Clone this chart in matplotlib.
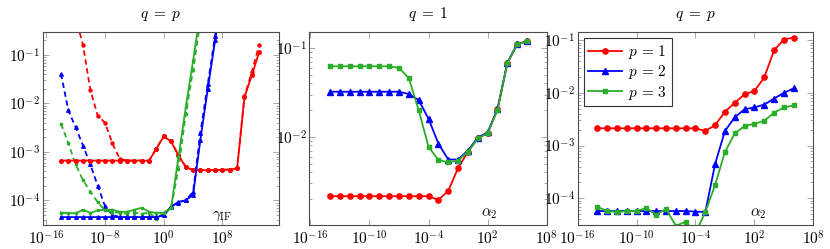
import numpy as np
import matplotlib
matplotlib.use("Agg")
import matplotlib.pyplot as plt
from matplotlib.ticker import LogLocator, NullFormatter, NullLocator

# ---- dati pannello 1 (q = p, gamma_IF) ----
exp1 = list(range(-14, 14))
red1_solid = [6.6e-4] * 13 + [1.17e-3, 2.1e-3, 1.65e-3, 8.5e-4, 4.9e-4, 4.2e-4,
                              4.2e-4, 4.2e-4, 4.2e-4, 4.3e-4, 4.3e-4, 4.6e-4,
                              1.35e-2, 3.8e-2, 0.115]
red1_dash = [3.0, 1.3, 0.6, 0.16, 1.9e-2, 5.6e-3, 4e-3, 1.5e-3, 7.2e-4,
             6.6e-4, 6.6e-4, 6.6e-4, 6.6e-4, 1.17e-3, 2.1e-3, 1.65e-3, 8.5e-4,
             4.9e-4, 4.2e-4, 4.2e-4, 4.2e-4, 4.2e-4, 4.3e-4, 4.3e-4, 4.6e-4,
             1.4e-2, 4.5e-2, 0.16]
exp1b = list(range(-14, 9))
blue1_solid = [4.5e-5] * 14 + [4.9e-5, 7.3e-5, 9.3e-5, 1.0e-4, 1.3e-4,
                               1.8e-3, 2e-2, 0.2, 2.0]
blue1_dash = [4.1e-2, 7.2e-3, 3.2e-3, 1.35e-3, 5.5e-4, 2e-4, 7.5e-5, 5e-5,
              4.5e-5, 4.5e-5, 4.5e-5, 4.5e-5, 4.5e-5, 4.5e-5,
              5e-5, 7.5e-5, 9e-5, 1.0e-4, 1.5e-4, 2.5e-3, 2.5e-2, 0.25, 2.5]
exp1g = list(range(-14, 7))
green1_solid = [5.6e-5, 5.4e-5, 5.4e-5, 6.4e-5, 5.5e-5, 6.2e-5, 6.4e-5, 6.4e-5,
                5.8e-5, 5.8e-5, 6.4e-5, 7e-5, 5.8e-5, 5.5e-5, 5.5e-5,
                7.0e-5, 7.7e-4, 8.3e-3, 7.7e-2, 0.8, 8.0]
green1_dash = [3.8e-3, 1.5e-3, 5.5e-4, 2.6e-4, 1.5e-4, 9.2e-5, 6.2e-5, 5.6e-5,
               5.6e-5, 5.3e-5, 5.6e-5, 5.3e-5, 5.5e-5, 4.2e-5, 5.5e-5,
               7e-5, 4.5e-4, 6e-3, 5e-2, 0.5, 5.0]

# ---- dati pannello 2 (q = 1, alpha_2) ----
exp2 = list(range(-14, 7))
red2 = [2.14e-3] * 11 + [1.95e-3, 2.45e-3, 4.45e-3, 6.8e-3, 9.6e-3, 1.11e-2,
                         2.04e-2, 6.8e-2, 0.111, 0.12]
blue2 = [3.23e-2] * 8 + [3.04e-2, 2.6e-2, 1.6e-2, 8.4e-3, 5.55e-3, 5.55e-3,
                         7e-3, 9.8e-3, 1.12e-2, 2.04e-2, 6.8e-2, 0.111, 0.12]
green2 = [6.25e-2] * 7 + [6.0e-2, 4.6e-2, 2.0e-2, 7.7e-3, 5.5e-3, 5.15e-3,
                          5.4e-3, 6.8e-3, 9.6e-3, 1.1e-2, 2.0e-2, 6.8e-2,
                          0.111, 0.12]

# ---- dati pannello 3 (q = p, alpha_2) ----
exp3 = list(range(-14, 7))
red3 = [2.13e-3] * 11 + [1.9e-3, 2.45e-3, 4.4e-3, 6.5e-3, 9.4e-3, 1.09e-2,
                         1.96e-2, 6.4e-2, 0.103, 0.112]
blue3 = [5.75e-5] * 10 + [5.6e-5, 5.5e-5, 4.5e-4, 1.9e-3, 3.45e-3, 4.9e-3,
                          5.3e-3, 6.0e-3, 7.8e-3, 1.0e-2, 1.22e-2]
green3 = [6.9e-5, 5.75e-5, 5.5e-5, 5.75e-5, 5.75e-5, 6.5e-5, 4.9e-5, 6.3e-5,
          3.0e-5, 3.6e-5, 2.2e-5, 5.5e-5, 1.8e-4, 7.6e-4, 1.7e-3, 2.35e-3,
          2.6e-3, 2.95e-3, 4.2e-3, 5.3e-3, 5.8e-3]

titles = [r"$q\;=\;p$", r"$q\;=\;1$", r"$q\;=\;p$"]
labels = [r"$p\,=\,1$", r"$p\,=\,2$", r"$p\,=\,3$"]

RED = "#ff0000"
BLUE = "#0000ff"
GREEN = "#2aae2a"

plt.rcParams["mathtext.fontset"] = "cm"
plt.rcParams["font.size"] = 11


def x_of(e):
    return 10.0 ** np.array(e, dtype=float)


def setup_axis(ax, xticks, yticks, xlim, ylim, title):
    ax.set_xscale("log")
    ax.set_yscale("log")
    ax.set_xticks([10.0 ** k for k in xticks],
                  labels=[r"$10^{%d}$" % k for k in xticks])
    ax.set_yticks([10.0 ** k for k in yticks],
                  labels=[r"$10^{%d}$" % k for k in yticks])
    ax.xaxis.set_minor_locator(NullLocator())
    ax.yaxis.set_minor_locator(LogLocator(base=10, subs=np.arange(2, 10), numticks=50))
    ax.yaxis.set_minor_formatter(NullFormatter())
    ax.set_xlim(*xlim)
    ax.set_ylim(*ylim)
    ax.tick_params(which="both", direction="in", top=True, right=True,
                   color="0.6", width=0.6, labelsize=11)
    ax.tick_params(axis="x", pad=3)
    ax.tick_params(axis="y", pad=2)
    ax.tick_params(which="major", length=4)
    ax.tick_params(which="minor", length=2)
    for s in ax.spines.values():
        s.set_color("0.3")
        s.set_linewidth(0.8)
    ax.set_title(title, fontsize=11, pad=10)


fig = plt.figure(figsize=(8.3, 2.49), dpi=100)
bottom, height = 0.0944, 0.776
ax1 = fig.add_axes([0.0514, bottom, 0.2847, height])
ax2 = fig.add_axes([0.3727, bottom, 0.2860, height])
ax3 = fig.add_axes([0.6960, bottom, 0.2839, height])

lw = 1.3
# pannello 1
ax1.plot(x_of(exp1), red1_dash, "--", color=RED, lw=lw, marker="o", ms=2.2, dashes=(3, 2))
ax1.plot(x_of(exp1b), blue1_dash, "--", color=BLUE, lw=lw, marker="^", ms=2.6, dashes=(3, 2))
ax1.plot(x_of(exp1g), green1_dash, "--", color=GREEN, lw=lw, marker="s", ms=2.0, dashes=(3, 2))
ax1.plot(x_of(exp1), red1_solid, "-", color=RED, lw=lw, marker="o", ms=2.6)
ax1.plot(x_of(exp1b), blue1_solid, "-", color=BLUE, lw=lw, marker="^", ms=2.6)
ax1.plot(x_of(exp1g), green1_solid, "-", color=GREEN, lw=lw, marker="s", ms=2.0)
setup_axis(ax1, [-16, -8, 0, 8], [-4, -3, -2, -1],
           (10 ** -16.5, 10 ** 15.7), (10 ** -4.52, 10 ** -0.53), titles[0])
ax1.text(0.76, 0.015, r"$\gamma_{\mathrm{IF}}$", transform=ax1.transAxes,
         ha="center", va="bottom", fontsize=11)

# pannello 2
ax2.plot(x_of(exp2), red2, "-", color=RED, lw=lw, marker="o", ms=3.8)
ax2.plot(x_of(exp2), blue2, "-", color=BLUE, lw=lw, marker="^", ms=3.8)
ax2.plot(x_of(exp2), green2, "-", color=GREEN, lw=lw, marker="s", ms=2.4)
setup_axis(ax2, [-16, -10, -4, 2, 8], [-2, -1],
           (10 ** -16.1, 1e8), (1e-3, 10 ** -0.82), titles[1])
ax2.text(0.76, 0.025, r"$\alpha_2$", transform=ax2.transAxes,
         ha="center", va="bottom", fontsize=11)

# pannello 3
ax3.plot(x_of(exp3), red3, "-", color=RED, lw=lw, marker="o", ms=3.8, label=labels[0])
ax3.plot(x_of(exp3), blue3, "-", color=BLUE, lw=lw, marker="^", ms=3.8, label=labels[1])
ax3.plot(x_of(exp3), green3, "-", color=GREEN, lw=lw, marker="s", ms=2.4, label=labels[2])
setup_axis(ax3, [-16, -10, -4, 2, 8], [-4, -3, -2, -1],
           (1e-16, 1e8), (10 ** -4.515, 10 ** -0.85), titles[2])
ax3.text(0.765, 0.025, r"$\alpha_2$", transform=ax3.transAxes,
         ha="center", va="bottom", fontsize=11)
leg = ax3.legend(loc="upper left", fontsize=11, fancybox=False, framealpha=1,
                 edgecolor="0.2", borderaxespad=0.4, labelspacing=0.15,
                 handlelength=2.2, handletextpad=0.4, borderpad=0.3)
leg.get_frame().set_linewidth(0.8)

fig.savefig("out.png", dpi=100)
